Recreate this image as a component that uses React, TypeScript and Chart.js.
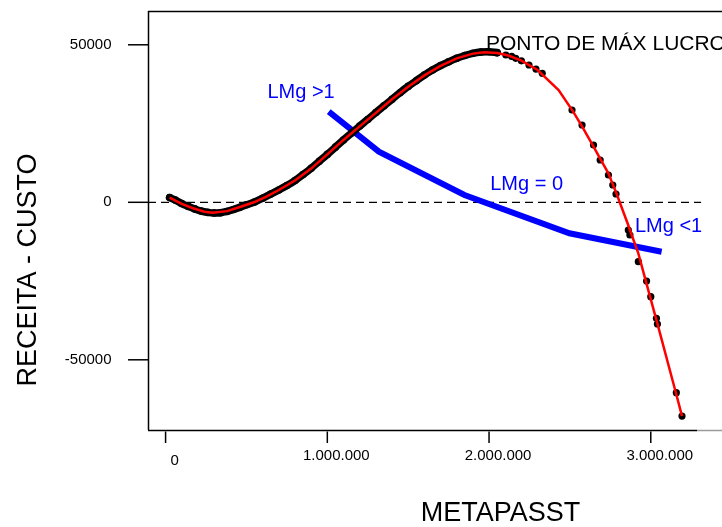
import React, { useEffect, useRef } from "react";
import { Chart, registerables } from "chart.js";

Chart.register(...registerables);

const FONT = '"Liberation Sans", Arial, Helvetica, sans-serif';

// Axis ranges (data units)
const X_MIN = -108700;
const X_MAX = 3415600;
const Y_MIN = -72286;
const Y_MAX = 60730;

// Tick values and labels
const X_TICKS = [0, 1000000, 2000000, 3000000];
const X_TICK_LABELS = ["0", "1.000.000", "2.000.000", "3.000.000"];
const Y_TICKS = [50000, 0, -50000];
const Y_TICK_LABELS = ["50000", "0", "-50000"];

// Dense cloud of observations (METAPASST vs RECEITA - CUSTO)
const DENSE_X = [
  25000, 60000, 100000, 140000, 180000, 220000, 260000, 300000, 340000, 380000,
  420000, 460000, 500000, 550000, 600000, 650000, 700000, 750000, 800000, 850000,
  900000, 950000, 1000000, 1050000, 1100000, 1150000, 1200000, 1250000, 1300000,
  1350000, 1400000, 1450000, 1500000, 1550000, 1600000, 1650000, 1700000, 1750000,
  1800000, 1850000, 1900000, 1950000, 2000000, 2050000,
];
const DENSE_Y = [
  1500, 700, -400, -1300, -2100, -2800, -3200, -3400, -3300, -2900,
  -2300, -1600, -800, 100, 1300, 2600, 3900, 5300, 6900, 8800,
  10800, 13000, 15200, 17500, 19800, 22000, 24200, 26300, 28500,
  30600, 32700, 34800, 36800, 38600, 40400, 42000, 43400, 44600,
  45700, 46600, 47300, 47700, 47800, 47500,
];

// Scattered observations at the high end
const SPARSE_X = [
  2104000, 2140000, 2165000, 2200000, 2247000, 2290000, 2329000,
  2513000, 2575000, 2646000, 2687000, 2738000, 2765000, 2785000,
  2861000, 2871000, 2923000, 2974000, 3000000, 3035000, 3041000,
  3158000, 3193000,
];
const SPARSE_Y = [
  46760, 46300, 45710, 44900, 43580, 42300, 40950,
  29300, 24540, 18190, 13430, 8670, 5490, 2630,
  -8790, -10380, -18860, -24980, -29970, -36830, -38640,
  -60450, -67850,
];

// Fitted curve (red)
const FIT_X = [
  25000, 100000, 170000, 240000, 290000, 380000, 460000, 546000, 620000, 700000,
  800000, 900000, 1000000, 1100000, 1200000, 1300000, 1400000, 1500000, 1600000,
  1700000, 1800000, 1900000, 1970000, 2050000, 2120000, 2200000, 2300000, 2430000,
  2520000, 2575000, 2646000, 2687000, 2738000, 2765000, 2785000, 2861000, 2871000,
  2923000, 2974000, 3000000, 3035000, 3041000, 3158000, 3193000,
];
const FIT_Y = [
  1500, -500, -1900, -3000, -3300, -2800, -1500, 0, 1700, 3900,
  6900, 10700, 15200, 19800, 24100, 28400, 32700, 36700, 40300,
  43300, 45700, 47200, 47600, 47400, 46600, 45000, 42000, 35650,
  28800, 24100, 17650, 13900, 9200, 5700, 3200, -7300, -8800,
  -16200, -25900, -30800, -37400, -38500, -61000, -67900,
];

// Marginal profit line (blue)
const LMG_X = [1009000, 1319000, 1848000, 2497000, 3067000];
const LMG_Y = [28760, 16060, 2320, -9840, -15680];

// Zero reference line
const ZERO_X = [X_MIN, 3311000];
const ZERO_Y = [0, 0];

// Text annotations anchored in data units (left, baseline)
const NOTES = [
  { text: "PONTO DE MÁX LUCRO", x: 1981000, y: 48350, color: "#000000", size: 21 },
  { text: "LMg >1", x: 630000, y: 33020, color: "#0000ff", size: 20 },
  { text: "LMg = 0", x: 2007000, y: 3880, color: "#0000ff", size: 20 },
  { text: "LMg <1", x: 2902000, y: -9330, color: "#0000ff", size: 20 },
];

const X_TITLE = "METAPASST";
const Y_TITLE = "RECEITA - CUSTO";

const zip = (xs: number[], ys: number[]) => xs.map((x, i) => ({ x, y: ys[i] }));

const decorPlugin = {
  id: "decor",
  beforeDraw(chart: any) {
    const { ctx, width, height } = chart;
    ctx.save();
    ctx.fillStyle = "#ffffff";
    ctx.fillRect(0, 0, width, height);
    ctx.restore();
  },
  afterDatasetsDraw(chart: any) {
    const { ctx, scales } = chart;
    const xs = scales.x;
    const ys = scales.y;
    ctx.save();
    ctx.textAlign = "left";
    ctx.textBaseline = "alphabetic";
    NOTES.forEach((n) => {
      ctx.font = `${n.size}px ${FONT}`;
      ctx.fillStyle = n.color;
      ctx.fillText(n.text, xs.getPixelForValue(n.x), ys.getPixelForValue(n.y));
    });
    ctx.restore();
  },
  afterDraw(chart: any) {
    const { ctx, chartArea, scales, width } = chart;
    const { left, top, bottom } = chartArea;
    const xs = scales.x;
    const ys = scales.y;
    ctx.save();
    ctx.strokeStyle = "#000000";
    ctx.lineWidth = 1.5;
    // frame
    ctx.beginPath();
    ctx.moveTo(left + 0.5, top);
    ctx.lineTo(left + 0.5, bottom);
    ctx.moveTo(left, top + 0.5);
    ctx.lineTo(width, top + 0.5);
    ctx.moveTo(left, bottom + 0.5);
    ctx.lineTo(697, bottom + 0.5);
    ctx.stroke();
    ctx.strokeStyle = "#9a9a9a";
    ctx.beginPath();
    ctx.moveTo(697, bottom + 0.5);
    ctx.lineTo(width, bottom + 0.5);
    ctx.stroke();

    // y ticks
    ctx.strokeStyle = "#000000";
    ctx.fillStyle = "#000000";
    ctx.font = `15px ${FONT}`;
    ctx.textAlign = "right";
    ctx.textBaseline = "middle";
    Y_TICKS.forEach((v, i) => {
      const py = ys.getPixelForValue(v);
      ctx.beginPath();
      ctx.moveTo(left - 20, py);
      ctx.lineTo(left, py);
      ctx.stroke();
      ctx.fillText(Y_TICK_LABELS[i], left - 36.5, py);
    });

    // x ticks
    ctx.textAlign = "center";
    X_TICKS.forEach((v, i) => {
      const px = xs.getPixelForValue(v);
      ctx.beginPath();
      ctx.moveTo(px, bottom + 1.5);
      ctx.lineTo(px, bottom + 13);
      ctx.stroke();
      const dy = i === 0 ? 31 : 25.7;
      ctx.fillText(X_TICK_LABELS[i], px + 9, bottom + dy);
    });

    // titles
    ctx.font = `27px ${FONT}`;
    ctx.textAlign = "center";
    ctx.textBaseline = "alphabetic";
    ctx.fillText(X_TITLE, 500.5, 521);
    ctx.translate(36, 270);
    ctx.rotate(-Math.PI / 2);
    ctx.fillText(Y_TITLE, 0, 0);
    ctx.restore();
  },
};

export default function App() {
  const ref = useRef<HTMLCanvasElement>(null);
  useEffect(() => {
    document.body.style.margin = "0";
    const canvas = ref.current;
    if (!canvas) return;
    const chart = new Chart(canvas, {
      type: "scatter",
      data: {
        datasets: [
          {
            label: "Ajuste",
            data: zip(FIT_X, FIT_Y),
            showLine: true,
            borderColor: "#ff0000",
            borderWidth: 2.5,
            pointRadius: 0,
            tension: 0,
            order: 0,
          },
          {
            label: "Observado (disperso)",
            data: zip(SPARSE_X, SPARSE_Y),
            showLine: false,
            pointRadius: 3.6,
            pointBackgroundColor: "#000000",
            pointBorderWidth: 0,
            order: 1,
          },
          {
            label: "Observado",
            data: zip(DENSE_X, DENSE_Y),
            showLine: true,
            borderColor: "#000000",
            borderWidth: 7.5,
            borderCapStyle: "round",
            borderJoinStyle: "round",
            tension: 0.3,
            pointRadius: 3.8,
            pointBackgroundColor: "#000000",
            pointBorderWidth: 0,
            order: 2,
          },
          {
            label: "LMg",
            data: zip(LMG_X, LMG_Y),
            showLine: true,
            borderColor: "#0000ff",
            borderWidth: 6,
            pointRadius: 0,
            tension: 0,
            order: 3,
          },
          {
            label: "Zero",
            data: zip(ZERO_X, ZERO_Y),
            showLine: true,
            borderColor: "#000000",
            borderWidth: 1.3,
            borderDash: [8, 5],
            pointRadius: 0,
            order: 4,
          },
        ],
      },
      options: {
        animation: false,
        responsive: false,
        devicePixelRatio: 1,
        layout: { padding: { left: 148, top: 11, right: 0, bottom: 97 } },
        plugins: { legend: { display: false }, tooltip: { enabled: false } },
        events: [],
        scales: {
          x: { type: "linear", min: X_MIN, max: X_MAX, display: false },
          y: { type: "linear", min: Y_MIN, max: Y_MAX, display: false },
        },
      },
      plugins: [decorPlugin],
    });
    return () => chart.destroy();
  }, []);
  return (
    <div style={{ width: 722, height: 527 }}>
      <canvas ref={ref} width={722} height={527} style={{ display: "block" }} />
    </div>
  );
}
